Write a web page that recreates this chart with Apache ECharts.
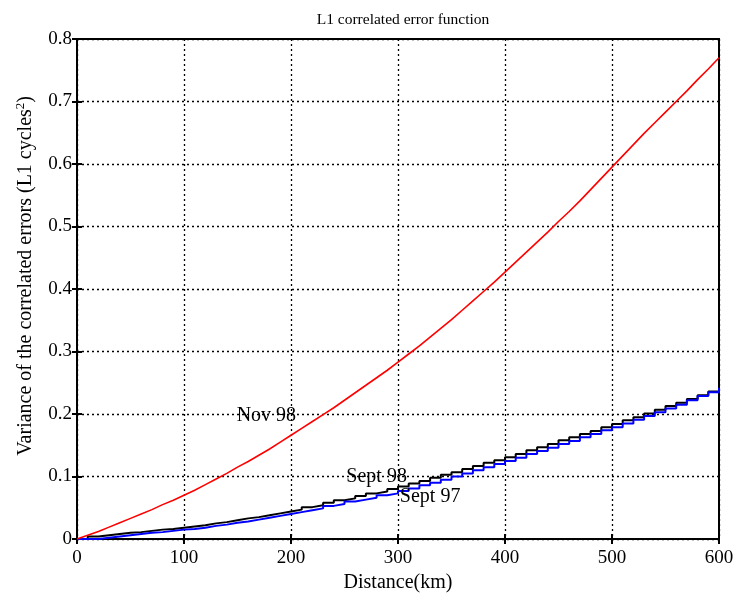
<!DOCTYPE html>
<html>
<head>
<meta charset="utf-8">
<script src="https://cdn.jsdelivr.net/npm/echarts@6/dist/echarts.min.js"></script>
<style>
  html, body { margin: 0; padding: 0; background: #fff; }
  #main { width: 736px; height: 593px; }
</style>
</head>
<body>
<div id="main"></div>
<script>
// distance in km, every 10 km
var distance = [];
for (var d = 0; d <= 600; d += 10) distance.push(d);

var nov98 = [
  0.000, 0.006, 0.012, 0.019, 0.026, 0.033, 0.040, 0.047, 0.055, 0.062,
  0.070, 0.078, 0.087, 0.096, 0.105, 0.115, 0.124, 0.134, 0.144, 0.155,
  0.166, 0.177, 0.188, 0.199, 0.210, 0.222, 0.234, 0.246, 0.258, 0.270,
  0.283, 0.296, 0.309, 0.323, 0.337, 0.351, 0.366, 0.381, 0.396, 0.411,
  0.427, 0.443, 0.459, 0.475, 0.491, 0.508, 0.524, 0.541, 0.559, 0.577,
  0.595, 0.613, 0.631, 0.649, 0.666, 0.683, 0.700, 0.717, 0.735, 0.752,
  0.770
];

var sept98 = [
  0.000, 0.004, 0.006, 0.008, 0.010, 0.011, 0.013, 0.015, 0.016, 0.018,
  0.020, 0.022, 0.025, 0.027, 0.030, 0.033, 0.035, 0.038, 0.041, 0.044,
  0.047, 0.051, 0.054, 0.058, 0.062, 0.065, 0.069, 0.073, 0.076, 0.080,
  0.084, 0.089, 0.093, 0.098, 0.103, 0.107, 0.112, 0.117, 0.122, 0.126,
  0.131, 0.136, 0.142, 0.147, 0.152, 0.158, 0.163, 0.168, 0.173, 0.179,
  0.184, 0.190, 0.195, 0.201, 0.207, 0.213, 0.218, 0.224, 0.230, 0.236,
  0.242
];

var sept97 = [
  0.000, 0.000, 0.002, 0.004, 0.006, 0.008, 0.010, 0.011, 0.013, 0.015,
  0.016, 0.018, 0.021, 0.023, 0.026, 0.028, 0.031, 0.034, 0.037, 0.040,
  0.043, 0.046, 0.049, 0.053, 0.056, 0.060, 0.063, 0.066, 0.070, 0.073,
  0.077, 0.081, 0.086, 0.090, 0.095, 0.100, 0.105, 0.110, 0.115, 0.120,
  0.125, 0.130, 0.136, 0.141, 0.146, 0.152, 0.157, 0.163, 0.168, 0.174,
  0.179, 0.185, 0.191, 0.197, 0.203, 0.209, 0.215, 0.222, 0.229, 0.235,
  0.242
];

// text labels placed in data space [km, variance]
var labelNov98 = [177, 0.197];
var labelSept98 = [280, 0.099];
var labelSept97 = [330, 0.067];

function pairs(xs, ys) {
  return xs.map(function (x, i) { return [x, ys[i]]; });
}

var font = 'Liberation Serif, Times New Roman, serif';
var dotted = { show: true, lineStyle: { color: '#000', width: 1.3, type: [2, 3] } };
var tick = { inside: true, length: 5, lineStyle: { color: '#000', width: 2 } };

function textMark(coord, text) {
  return {
    symbol: 'circle', symbolSize: 0, silent: true,
    data: [{ coord: coord }],
    label: { show: true, position: 'inside', formatter: text,
             color: '#000', fontFamily: font, fontSize: 20 }
  };
}

var myChart = echarts.init(document.getElementById('main'));

myChart.setOption({
  animation: false,
  backgroundColor: '#fff',
  title: {
    text: 'L1 correlated error function',
    left: 398, top: 7, textAlign: 'center',
    textStyle: { fontFamily: font, fontSize: 15.5, fontWeight: 'normal', color: '#000' }
  },
  graphic: [{
    type: 'text', left: 14, top: 96, rotation: Math.PI / 2,
    style: {
      text: 'Variance of the correlated errors (L1 cycles{s|2})',
      fill: '#000', font: '20px ' + font,
      rich: { s: { fontSize: 13, fontFamily: font, fill: '#000', verticalAlign: 'top', padding: [0, 0, 10, 0] } }
    }
  }],
  grid: {
    left: 77, right: 17, top: 39, bottom: 54,
    outerBoundsMode: 'none',
    show: true, borderColor: '#000', borderWidth: 2, backgroundColor: '#fff'
  },
  xAxis: [
    {
      type: 'value', min: 0, max: 600, interval: 100,
      name: 'Distance(km)', nameLocation: 'middle', nameGap: 32,
      nameTextStyle: { fontFamily: font, fontSize: 20, color: '#000' },
      axisLine: { lineStyle: { color: '#000', width: 2 } },
      axisTick: tick,
      axisLabel: { fontFamily: font, fontSize: 19, color: '#000', margin: 10 },
      splitLine: dotted
    },
    {
      type: 'value', min: 0, max: 600, interval: 100, position: 'top',
      axisLine: { show: false }, axisTick: tick,
      axisLabel: { show: false }, splitLine: { show: false }
    }
  ],
  yAxis: [
    {
      type: 'value', min: 0, max: 0.8, interval: 0.1,
      axisLine: { lineStyle: { color: '#000', width: 2 } },
      axisTick: tick,
      axisLabel: {
        fontFamily: font, fontSize: 19, color: '#000', margin: 5,
        formatter: function (v) { return v === 0 ? '0' : v.toFixed(1); }
      },
      splitLine: dotted
    },
    {
      type: 'value', min: 0, max: 0.8, interval: 0.1, position: 'right',
      axisLine: { show: false }, axisTick: tick,
      axisLabel: { show: false }, splitLine: { show: false }
    }
  ],
  series: [
    {
      name: 'Nov 98', type: 'line', showSymbol: false,
      data: pairs(distance, nov98),
      lineStyle: { color: '#ff0000', width: 1.6 },
      markPoint: textMark(labelNov98, 'Nov 98'),
      z: 5
    },
    {
      name: 'Sept 98', type: 'line', step: 'end', showSymbol: false,
      data: pairs(distance, sept98),
      lineStyle: { color: '#000000', width: 2 },
      markPoint: textMark(labelSept98, 'Sept 98'),
      z: 3
    },
    {
      name: 'Sept 97', type: 'line', step: 'end', showSymbol: false,
      data: pairs(distance, sept97),
      lineStyle: { color: '#0000ff', width: 2 },
      markPoint: textMark(labelSept97, 'Sept 97'),
      z: 4
    }
  ]
});
</script>
</body>
</html>
